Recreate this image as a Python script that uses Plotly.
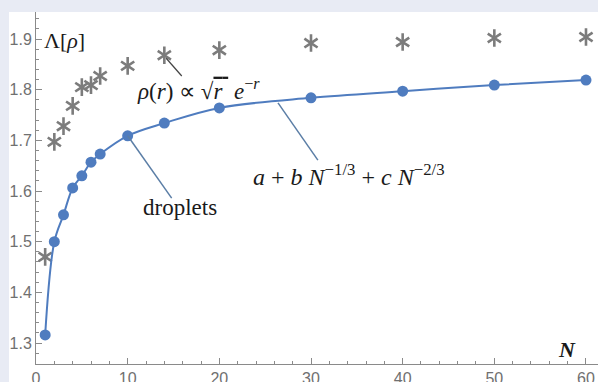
import plotly.graph_objects as go

# droplet sizes and values
N = [1, 2, 3, 4, 5, 6, 7, 10, 14, 20, 30, 40, 50, 60]
droplets = [1.316, 1.500, 1.553, 1.606, 1.630, 1.657, 1.673, 1.709, 1.734, 1.764, 1.784, 1.797, 1.809, 1.819]
stars = [1.470, 1.697, 1.728, 1.768, 1.805, 1.809, 1.827, 1.847, 1.868, 1.878, 1.892, 1.894, 1.902, 1.904]

y_ticks = [1.3, 1.4, 1.5, 1.6, 1.7, 1.8, 1.9]
x_ticks = [0, 10, 20, 30, 40, 50, 60]

blue = "#4f7cbf"
grey = "#7c7c7c"
serif = "Liberation Serif"

fig = go.Figure()

# rho(r) ~ sqrt(r) e^-r  -> grey asterisks (two Y marks give a 6-arm star)
for sym in ["y-up-open", "y-down-open"]:
    fig.add_trace(go.Scatter(x=N, y=stars, mode="markers",
                             marker=dict(symbol=sym, size=11, color=grey,
                                         line=dict(color=grey, width=2.6))))

# droplets with the smooth fit through them
fig.add_trace(go.Scatter(x=N, y=droplets, mode="lines+markers",
                         line=dict(color=blue, width=2, shape="spline", smoothing=1),
                         marker=dict(size=11, color=blue)))

# leader lines for the labels
fig.add_shape(type="line", x0=14.2, y0=1.862, x1=15.9, y1=1.827,
              line=dict(color="#444444", width=1.2))
fig.add_shape(type="line", x0=N[7], y0=droplets[7], x1=14.8, y1=1.586,
              line=dict(color="#5b7ea6", width=1.5))
fig.add_shape(type="line", x0=26.4, y0=1.774, x1=30.75, y1=1.661,
              line=dict(color="#5b7ea6", width=1.5))

# white panel over the light frame
fig.add_shape(type="rect", xref="paper", yref="paper", x0=-0.048, x1=1.0, y0=-0.06, y1=1.0,
              fillcolor="white", line_width=0, layer="below")

txt = dict(family=serif, size=23, color="#1a1a1a")
fig.add_annotation(x=0.6, y=1.898, text="Λ[<i>ρ</i>]", showarrow=False, xanchor="left",
                   font=dict(family=serif, size=22, color="#1a1a1a"))
fig.add_annotation(x=10.8, y=1.800, showarrow=False, xanchor="left", font=txt,
                   text="<i>ρ</i>(<i>r</i>) ∝ √<span style='text-decoration:overline'><i>r</i> </span> <i>e</i><sup>−<i>r</i></sup>")
fig.add_annotation(x=15.7, y=1.567, text="droplets", showarrow=False, font=txt)
fig.add_annotation(x=23.5, y=1.632, showarrow=False, xanchor="left",
                   font=dict(family=serif, size=24, color="#1a1a1a"),
                   text="<i>a</i> + <i>b</i> <i>N</i><sup>−1/3</sup> + <i>c</i> <i>N</i><sup>−2/3</sup>")
fig.add_annotation(x=57.9, y=1.287, text="<b><i>N</i></b>", showarrow=False,
                   font=dict(family=serif, size=22, color="#1a1a1a"))

axis_grey = "#8a8a8a"
tickfont = dict(family="Liberation Sans", size=16, color="#707070")
fig.update_xaxes(range=[0, 61.31], tickvals=x_ticks, ticks="inside", ticklen=6, tickcolor=axis_grey,
                 minor=dict(dtick=2, ticks="inside", ticklen=3, tickcolor=axis_grey),
                 showline=True, linecolor=axis_grey, linewidth=1, showgrid=False, zeroline=False,
                 automargin=False, tickfont=tickfont)
fig.update_yaxes(range=[1.2586, 1.9533], tickvals=y_ticks, ticktext=[str(v) for v in y_ticks],
                 ticks="inside", ticklen=6, tickcolor=axis_grey,
                 minor=dict(dtick=0.02, ticks="inside", ticklen=3, tickcolor=axis_grey),
                 showline=True, linecolor=axis_grey, linewidth=1, showgrid=False, zeroline=False,
                 automargin=False, tickfont=tickfont)

fig.update_layout(width=598, height=382, margin=dict(l=36, r=0, t=12, b=18),
                  paper_bgcolor="#e8ebf4", plot_bgcolor="white", showlegend=False)

# page body has a default 8px margin; drop it so the figure sits at the window corner
fig.write_html("out.html", config={"displayModeBar": False},
               post_script="document.body.style.margin='0px';")
